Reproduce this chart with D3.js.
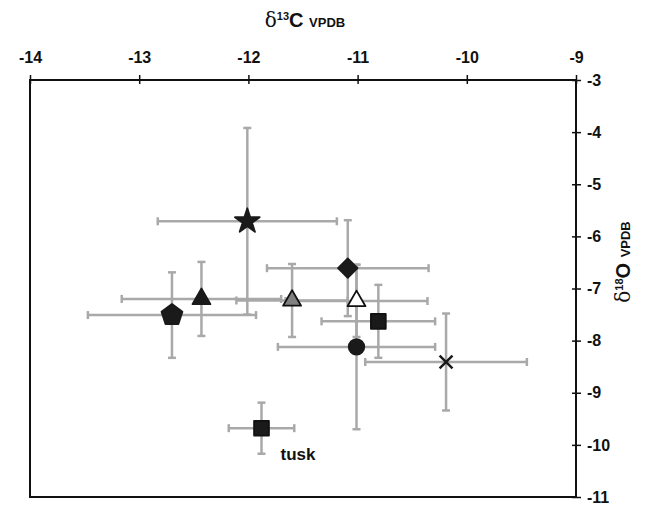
<!DOCTYPE html>
<html><head><meta charset="utf-8">
<script src="https://cdn.jsdelivr.net/npm/d3@7"></script>
<style>body{margin:0;background:#fff;} text{font-family:"Liberation Sans",Arial,sans-serif;font-weight:bold;}</style>
</head><body><svg id="c" width="646" height="509"></svg>
<script>
const xTicks = [-14,-13,-12,-11,-10,-9];
const yTicks = [-3,-4,-5,-6,-7,-8,-9,-10,-11];
const names   = ["star","pentagon","triBlack","triGrey","diamond","triWhite","square","circle","cross","tusk"];
const d13C    = [-12.01,-12.70,-12.43,-11.60,-11.09,-11.01,-10.81,-11.01,-10.19,-11.88];
const d18O    = [-5.71,-7.51,-7.20,-7.23,-6.61,-7.24,-7.63,-8.12,-8.41,-9.68];
const errC    = [0.82,0.77,0.73,0.51,0.74,0.65,0.52,0.72,0.74,0.30];
const errO    = [1.79,0.82,0.71,0.70,0.92,0.69,0.70,1.58,0.93,0.49];
const labels  = ["","","","","","","","","","tusk"];

const svg = d3.select("#c");
const L=30,R=576,T=80,B=497;
const x = d3.scaleLinear().domain([-14,-9]).range([L,R]);
const y = d3.scaleLinear().domain([-3,-11]).range([T,B]);
const fmt = d => String(d);

// frame
svg.append("rect").attr("x",L).attr("y",T).attr("width",R-L).attr("height",B-T)
  .attr("fill","none").attr("stroke","#111").attr("stroke-width",2);

// top axis
const gx = svg.append("g").attr("transform",`translate(0,${T})`)
  .call(d3.axisTop(x).tickValues(xTicks).tickSize(5).tickPadding(12).tickFormat(fmt));
gx.select(".domain").remove();
gx.selectAll(".tick line").attr("y1",4).attr("stroke","#111").attr("stroke-width",1.5);
gx.selectAll(".tick text").attr("font-size",16).attr("fill","#111");

// right axis
const gy = svg.append("g").attr("transform",`translate(${R},0)`)
  .call(d3.axisRight(y).tickValues(yTicks).tickSize(5).tickPadding(6).tickFormat(fmt));
gy.select(".domain").remove();
gy.selectAll(".tick line").attr("x1",-4).attr("stroke","#111").attr("stroke-width",1.5);
gy.selectAll(".tick text").attr("font-size",16).attr("fill","#111");

// axis titles
const tx = svg.append("text").attr("x",305).attr("y",27).attr("text-anchor","middle").attr("fill","#111");
tx.append("tspan").attr("font-size",20).attr("font-weight","normal").attr("font-family","DejaVu Serif").text("δ");
tx.append("tspan").attr("font-size",11).attr("dy",-7).text("13");
tx.append("tspan").attr("font-size",20).attr("dy",7).text("C ");
tx.append("tspan").attr("font-size",13).text("VPDB");

const ty = svg.append("text").attr("transform","translate(630,262) rotate(-90)").attr("text-anchor","middle").attr("fill","#111");
ty.append("tspan").attr("font-size",20).attr("font-weight","normal").attr("font-family","DejaVu Serif").text("δ");
ty.append("tspan").attr("font-size",11).attr("dy",-7).text("18");
ty.append("tspan").attr("font-size",20).attr("dy",7).text("O ");
ty.append("tspan").attr("font-size",13).text("VPDB");

const data = names.map((n,i)=>({n,x:d13C[i],y:d18O[i],ex:errC[i],ey:errO[i],lab:labels[i]}));

// error bars
const eb = svg.append("g").attr("stroke","#a9a9a9").attr("stroke-width",2.5).attr("fill","none");
const cap=4;
data.forEach(d=>{
  const cx=x(d.x), cy=y(d.y);
  const x0=x(d.x-d.ex), x1=x(d.x+d.ex), y0=y(d.y+d.ey), y1=y(d.y-d.ey);
  eb.append("line").attr("x1",x0).attr("x2",x1).attr("y1",cy).attr("y2",cy);
  eb.append("line").attr("x1",x0).attr("x2",x0).attr("y1",cy-cap).attr("y2",cy+cap);
  eb.append("line").attr("x1",x1).attr("x2",x1).attr("y1",cy-cap).attr("y2",cy+cap);
  eb.append("line").attr("x1",cx).attr("x2",cx).attr("y1",y0).attr("y2",y1);
  eb.append("line").attr("x1",cx-cap).attr("x2",cx+cap).attr("y1",y0).attr("y2",y0);
  eb.append("line").attr("x1",cx-cap).attr("x2",cx+cap).attr("y1",y1).attr("y2",y1);
});

// markers
const sym = {
  star:{t:d3.symbolStar,s:190,f:"#1a1a1a",st:"#1a1a1a"},
  pentagon:{t:null,s:0,f:"#1a1a1a",st:"#1a1a1a"},
  triBlack:{t:d3.symbolTriangle,s:140,f:"#1a1a1a",st:"#1a1a1a"},
  triGrey:{t:d3.symbolTriangle,s:140,f:"#808080",st:"#111"},
  diamond:{t:d3.symbolSquare,s:190,f:"#1a1a1a",st:"#1a1a1a",rot:45},
  triWhite:{t:d3.symbolTriangle,s:140,f:"#fff",st:"#111"},
  square:{t:d3.symbolSquare,s:220,f:"#1a1a1a",st:"#111"},
  circle:{t:d3.symbolCircle,s:190,f:"#1a1a1a",st:"#1a1a1a"},
  cross:{t:d3.symbolTimes,s:110,f:"none",st:"#1a1a1a"},
  tusk:{t:d3.symbolSquare,s:220,f:"#1a1a1a",st:"#111"}
};
const mk = svg.append("g");
data.forEach(d=>{
  const s=sym[d.n]; const cx=x(d.x), cy=y(d.y);
  let path;
  if(d.n==="pentagon"){
    const r=11;
    const pts=d3.range(5).map(k=>{const a=-Math.PI/2+k*2*Math.PI/5;return [r*Math.cos(a),r*Math.sin(a)];});
    path="M"+pts.map(p=>p.join(",")).join("L")+"Z";
  } else path=d3.symbol().type(s.t).size(s.s)();
  mk.append("path").attr("d",path).attr("transform",`translate(${cx},${cy}) rotate(${s.rot||0})`)
    .attr("fill",s.f).attr("stroke",s.st).attr("stroke-width",d.n==="cross"?2.5:1.8).attr("stroke-linejoin","round");
  if(d.lab) svg.append("text").attr("x",cx+19).attr("y",cy+32).attr("font-size",17).attr("fill","#111").text(d.lab);
});
</script></body></html>
